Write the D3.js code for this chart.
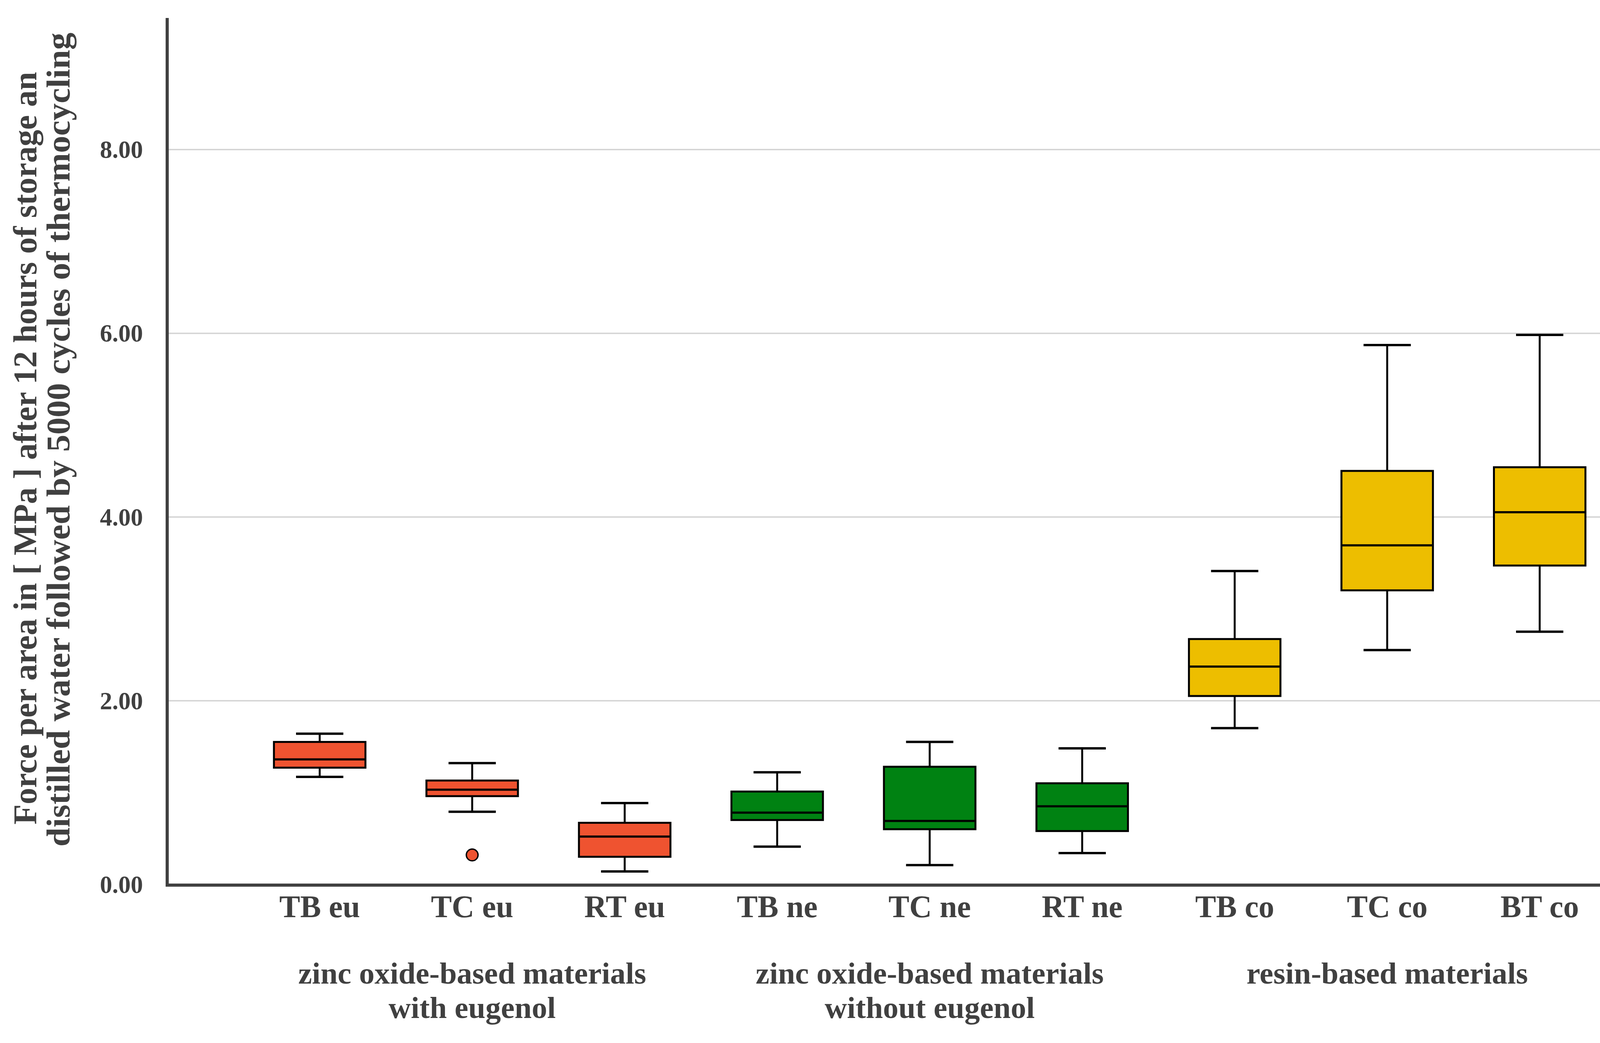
<!DOCTYPE html>
<html>
<head>
<meta charset="utf-8">
<script src="https://cdn.jsdelivr.net/npm/d3@7"></script>
<style>
  body { margin: 0; background: #ffffff; }
  text { font-family: "Liberation Serif", "Times New Roman", serif; font-weight: bold; fill: #404040; }
</style>
</head>
<body>
<div id="chart"></div>
<script>
// categories and box statistics
const categories = ["TB eu", "TC eu", "RT eu", "TB ne", "TC ne", "RT ne", "TB co", "TC co", "BT co"];
const groupOf    = [0, 0, 0, 1, 1, 1, 2, 2, 2];
const whiskerLow = [1.17, 0.79, 0.14, 0.41, 0.21, 0.34, 1.70, 2.55, 2.75];
const q1         = [1.27, 0.96, 0.30, 0.70, 0.60, 0.58, 2.05, 3.20, 3.47];
const median     = [1.36, 1.03, 0.52, 0.78, 0.69, 0.85, 2.37, 3.69, 4.05];
const q3         = [1.55, 1.13, 0.67, 1.01, 1.28, 1.10, 2.67, 4.50, 4.54];
const whiskerHigh= [1.64, 1.32, 0.885, 1.22, 1.55, 1.48, 3.41, 5.87, 5.98];
const outliers   = [{ cat: "TC eu", value: 0.32 }];

const groupLabels = [
    ["zinc oxide-based materials", "with eugenol"],
    ["zinc oxide-based materials", "without eugenol"],
    ["resin-based materials"]
];
const groupColors = ["#EF5330", "#008212", "#EDBE00"];
const yTicks = [0, 2, 4, 6, 8];
const yTitle = [
    "Force per area in [ MPa ] after 12 hours of storage an",
    "distilled water followed by 5000 cycles of thermocycling"
];

(function() {
    const W = 4363, H = 2669;
    const mLeft = 428, mRight = 4332, mTop = 46, mBottom = 2263;

    const svg = d3.select("#chart").append("svg")
        .attr("width", W)
        .attr("height", H)
        .style("display", "block")
        .style("background-color", "#ffffff");

    const x = d3.scalePoint()
        .domain(categories)
        .range([mLeft, mRight])
        .padding(1);

    const y = d3.scaleLinear()
        .domain([0, 9.43])
        .range([mBottom, mTop]);

    const step = x.step();
    const boxW = step * 0.6;
    const capW = step * 0.31;

    // gridlines
    svg.append("g")
        .attr("transform", `translate(${mLeft},0)`)
        .call(d3.axisLeft(y).tickValues(yTicks.filter(d => d > 0)).tickSize(-(mRight - mLeft)).tickFormat(""))
        .call(g => g.select(".domain").remove())
        .call(g => g.selectAll("line").attr("stroke", "#d3d3d3").attr("stroke-width", 3.5));

    // y tick labels
    svg.append("g")
        .attr("transform", `translate(${mLeft},0)`)
        .call(d3.axisLeft(y).tickValues(yTicks).tickSize(0).tickPadding(62).tickFormat(d3.format(".2f")))
        .call(g => g.select(".domain").remove())
        .call(g => g.selectAll("text")
            .attr("dy", "0.34em")
            .style("font-size", "63px")
            .style("font-family", "Liberation Serif")
            .style("font-weight", "bold")
            .attr("fill", "#404040"));

    // boxes
    const data = categories.map((c, i) => ({
        cat: c, g: groupOf[i], lo: whiskerLow[i], q1: q1[i], med: median[i], q3: q3[i], hi: whiskerHigh[i]
    }));

    const box = svg.append("g").selectAll("g")
        .data(data)
        .enter().append("g")
        .attr("transform", d => `translate(${x(d.cat)},0)`);

    box.append("line")
        .attr("x1", 0).attr("x2", 0)
        .attr("y1", d => y(d.hi)).attr("y2", d => y(d.q3))
        .attr("stroke", "#000").attr("stroke-width", 5);

    box.append("line")
        .attr("x1", 0).attr("x2", 0)
        .attr("y1", d => y(d.q1)).attr("y2", d => y(d.lo))
        .attr("stroke", "#000").attr("stroke-width", 5);

    box.append("line")
        .attr("x1", -capW / 2).attr("x2", capW / 2)
        .attr("y1", d => y(d.hi)).attr("y2", d => y(d.hi))
        .attr("stroke", "#000").attr("stroke-width", 6);

    box.append("line")
        .attr("x1", -capW / 2).attr("x2", capW / 2)
        .attr("y1", d => y(d.lo)).attr("y2", d => y(d.lo))
        .attr("stroke", "#000").attr("stroke-width", 6);

    box.append("rect")
        .attr("x", -boxW / 2)
        .attr("width", boxW)
        .attr("y", d => y(d.q3))
        .attr("height", d => y(d.q1) - y(d.q3))
        .attr("fill", d => groupColors[d.g])
        .attr("stroke", "#000")
        .attr("stroke-width", 5);

    box.append("line")
        .attr("x1", -boxW / 2).attr("x2", boxW / 2)
        .attr("y1", d => y(d.med)).attr("y2", d => y(d.med))
        .attr("stroke", "#000").attr("stroke-width", 5.5);

    // outliers
    svg.append("g").selectAll("circle")
        .data(outliers)
        .enter().append("circle")
        .attr("cx", d => x(d.cat))
        .attr("cy", d => y(d.value))
        .attr("r", 15)
        .attr("fill", d => groupColors[groupOf[categories.indexOf(d.cat)]])
        .attr("stroke", "#000")
        .attr("stroke-width", 3.5);

    // axis lines
    svg.append("line")
        .attr("x1", mLeft).attr("x2", mLeft)
        .attr("y1", mTop).attr("y2", mBottom + 3)
        .attr("stroke", "#404040").attr("stroke-width", 8);

    svg.append("line")
        .attr("x1", mLeft - 4).attr("x2", mRight)
        .attr("y1", mBottom + 2).attr("y2", mBottom + 2)
        .attr("stroke", "#404040").attr("stroke-width", 8);

    // category labels
    svg.append("g").selectAll("text")
        .data(categories)
        .enter().append("text")
        .attr("x", d => x(d))
        .attr("y", 2347)
        .attr("text-anchor", "middle")
        .style("font-size", "80px")
        .text(d => d);

    // group labels
    groupLabels.forEach((lines, gi) => {
        const members = categories.filter((c, i) => groupOf[i] === gi);
        const cx = (x(members[0]) + x(members[members.length - 1])) / 2;
        const t = svg.append("text")
            .attr("text-anchor", "middle")
            .style("font-size", "79px");
        lines.forEach((ln, li) => {
            t.append("tspan")
                .attr("x", cx)
                .attr("y", 2517 + li * 88)
                .text(ln);
        });
    });

    // y axis title, two rotated lines
    svg.append("text")
        .attr("transform", "rotate(-90)")
        .attr("text-anchor", "middle")
        .attr("x", -1147).attr("y", 93)
        .attr("textLength", 1926)
        .attr("lengthAdjust", "spacingAndGlyphs")
        .style("font-size", "84px")
        .text(yTitle[0]);
    svg.append("text")
        .attr("transform", "rotate(-90)")
        .attr("text-anchor", "middle")
        .attr("x", -1125).attr("y", 178)
        .attr("textLength", 2083)
        .attr("lengthAdjust", "spacingAndGlyphs")
        .style("font-size", "84px")
        .text(yTitle[1]);
})();
</script>
</body>
</html>
